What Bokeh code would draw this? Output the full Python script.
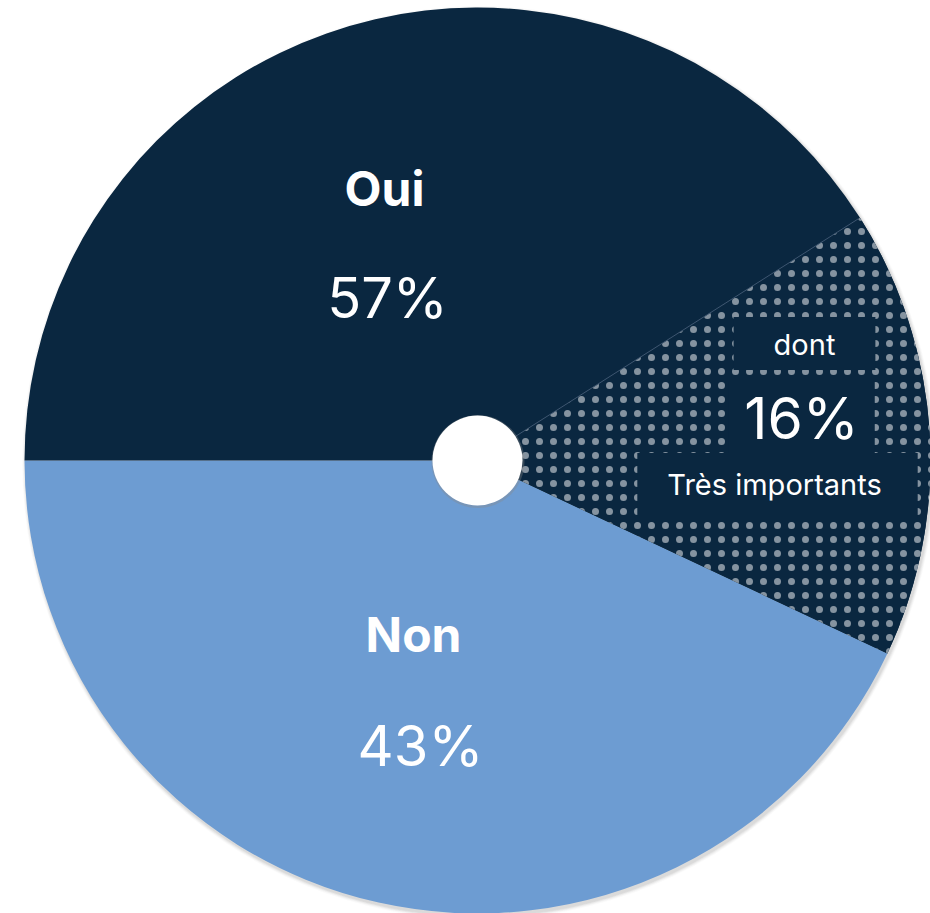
import math

from bokeh.core.properties import value
from bokeh.embed import file_html
from bokeh.models import Range1d
from bokeh.plotting import figure
from bokeh.resources import INLINE

# --- data -------------------------------------------------------------
labels = ["Oui", "Non"]
shares = [57, 43]                 # percent
sub_share = 16                    # part of "Oui"
sub_caption = "Très importants"
sub_prefix = "dont"

# --- styling ----------------------------------------------------------
NAVY = "#0a2740"
BLUE = "#6d9cd2"
W, H = 930, 913
CX, CY, R = 477, 453, 453
HOLE = 45
FONT = value("Inter")

p = figure(width=W, height=H, x_range=Range1d(0, W), y_range=Range1d(0, H),
           output_backend="svg", toolbar_location=None, min_border=0)
p.axis.visible = False
p.grid.visible = False
p.outline_line_color = None
p.background_fill_color = "white"
p.border_fill_color = "white"

# soft drop shadow under the disc
for i, a in enumerate([0.05, 0.05, 0.05, 0.04, 0.03]):
    p.circle(x=CX + 1.5, y=CY - 2.5, radius=R + 0.5 + i * 0.8,
             fill_color="#555555", fill_alpha=a, line_color=None)

# wedge angles, counter-clockwise starting at the left (180 deg)
tau = 2 * math.pi
start = math.pi
non_start = start
non_end = non_start + shares[1] / 100 * tau
oui_start = non_end
oui_end = start + tau
sub_start = oui_start
sub_end = sub_start + sub_share / 100 * tau

p.wedge(x=CX, y=CY, radius=R, start_angle=non_start, end_angle=non_end,
        direction="anticlock", fill_color=BLUE, line_color=None)
p.wedge(x=CX, y=CY, radius=R, start_angle=oui_start, end_angle=oui_end,
        direction="anticlock", fill_color=NAVY, line_color=None)

# dotted sub-slice inside "Oui"
p.wedge(x=CX, y=CY, radius=R, start_angle=sub_start, end_angle=sub_end,
        direction="anticlock", fill_color=NAVY, line_color=None,
        hatch_pattern="dot", hatch_color="white", hatch_scale=14,
        hatch_weight=0.1, hatch_alpha=0.5)
# hairline separating the sub-slice from the rest of "Oui"
p.ray(x=CX, y=CY, length=R - 2, angle=sub_end, line_color="#3e5670",
      line_width=1)

# centre hole
p.circle(x=CX + 0.5, y=CY - 1, radius=HOLE + 1.5, fill_color="#8a8a8a",
         fill_alpha=0.35, line_color=None)
p.circle(x=CX, y=CY, radius=HOLE, fill_color="white", line_color=None)

# --- labels -----------------------------------------------------------
def label(x, y, txt, size, style="normal", bg=None, pad=None):
    kw = {}
    if bg is not None:
        kw = dict(background_fill_color=bg, padding=pad,
                  border_line_color=None)
    p.text(x=[x], y=[y], text=[txt], text_font=FONT,
           text_font_size=f"{size}px", text_font_style=style,
           text_color="white", text_align="center",
           text_baseline="middle", **kw)

label(384, H - 188, labels[0], 48, "bold")
label(387, H - 297, f"{shares[0]}%", 56)
label(413, H - 634, labels[1], 48, "bold")
label(420, H - 745, f"{shares[1]}%", 56)

label(804, H - 343, sub_prefix, 29, bg=NAVY,
      pad=dict(left=40, right=40, top=10, bottom=8))
label(801, H - 418, f"{sub_share}%", 57, bg=NAVY,
      pad=dict(left=16, right=16, top=2, bottom=2))
label(777, H - 485, sub_caption, 29, bg=NAVY,
      pad=dict(left=30, right=36, top=14, bottom=16))

open("out.html", "w").write(file_html(p, INLINE))
